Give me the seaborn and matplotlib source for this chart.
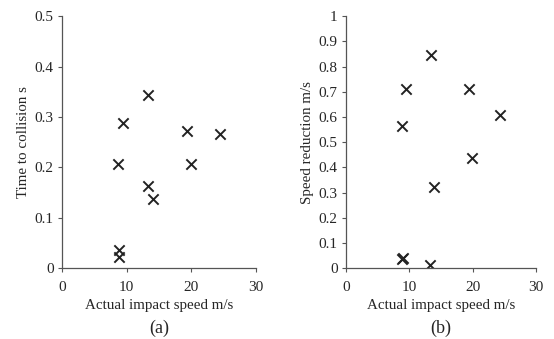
"""Two scatter panels: time to collision and speed reduction vs actual impact speed"""

from matplotlib import pyplot as plt
import seaborn as sns
import pandas as pd

# panel (a)
speed_a = [13.35, 9.4, 8.7, 19.4, 24.4, 19.95, 13.35, 14.1, 8.85, 8.75]
ttc = [0.344, 0.288, 0.207, 0.272, 0.267, 0.207, 0.163, 0.137, 0.036, 0.022]

# panel (b)
speed_b = [13.35, 9.45, 19.35, 24.35, 8.9, 19.95, 13.95, 8.95, 8.9, 13.3]
reduction = [0.848, 0.712, 0.710, 0.608, 0.566, 0.437, 0.321, 0.040, 0.036, 0.011]

x_ticks = [0, 10, 20, 30]
y_ticks_a = [0, 0.1, 0.2, 0.3, 0.4, 0.5]
y_ticks_b = [0, 0.1, 0.2, 0.3, 0.4, 0.5, 0.6, 0.7, 0.8, 0.9, 1]

sns.set_style('white')
plt.rcParams['font.family'] = ['Liberation Serif', 'DejaVu Serif']

df_a = pd.DataFrame({'speed': speed_a, 'value': ttc})
df_b = pd.DataFrame({'speed': speed_b, 'value': reduction})

fig = plt.figure(figsize=(5.54, 3.39), dpi=100)
ax_a = fig.add_axes([0.112, 0.209, 0.350, 0.743])
ax_b = fig.add_axes([0.6245, 0.209, 0.343, 0.743])

panels = [
    (ax_a, df_a, 0.5, y_ticks_a, 'Time to collision s', '(a)'),
    (ax_b, df_b, 1.0, y_ticks_b, 'Speed reduction m/s', '(b)'),
]

for ax, df, ymax, yticks, ylabel, tag in panels:
    sns.scatterplot(data=df, x='speed', y='value', ax=ax, marker='x',
                    color='#222222', s=55, linewidth=1.4, legend=False)
    ax.set_xlim(0, 30)
    ax.set_ylim(0, ymax)
    ax.set_xticks(x_ticks)
    ax.set_yticks(yticks)
    ax.set_yticklabels([f'{t:g}' for t in yticks])
    ax.set_xlabel('Actual impact speed m/s', fontsize=10.8, labelpad=3.5)
    ax.set_ylabel(ylabel, fontsize=10.8, labelpad=3.5)
    ax.tick_params(labelsize=11, length=3, width=0.8, color='#555555',
                   direction='out', bottom=True, left=True)
    ax.tick_params(axis='x', pad=6.5)
    ax.tick_params(axis='y', pad=3)
    sns.despine(ax=ax)
    for side in ['left', 'bottom']:
        ax.spines[side].set_color('#555555')
        ax.spines[side].set_linewidth(0.9)
    ax.text(0.5, -0.24, tag, transform=ax.transAxes, ha='center',
            va='center', fontsize=13)

plt.savefig('out.png', dpi=100)
